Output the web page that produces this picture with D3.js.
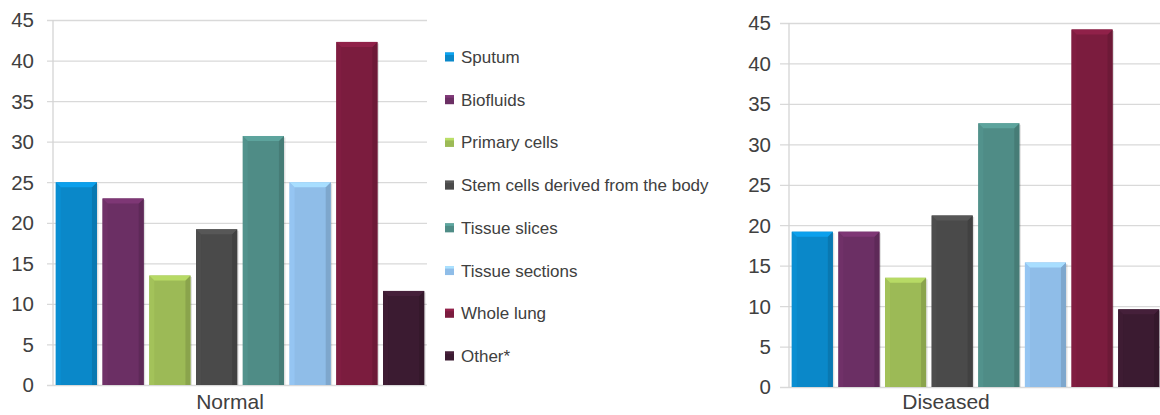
<!DOCTYPE html>
<html>
<head>
<meta charset="utf-8">
<script src="https://cdn.jsdelivr.net/npm/d3@7"></script>
<style>
  html, body { margin: 0; padding: 0; background: #fff; }
  svg { display: block; font-family: "Liberation Sans", Arial, sans-serif; }
</style>
</head>
<body>
<svg id="chart" width="1160" height="415"></svg>
<script>
// ---- data ----
const categories = ["Sputum", "Biofluids", "Primary cells", "Stem cells derived from the body",
  "Tissue slices", "Tissue sections", "Whole lung", "Other*"];
const normalValues = [25, 23, 13.5, 19.2, 30.7, 25, 42.3, 11.6];
const diseasedValues = [19.2, 19.2, 13.5, 21.2, 32.6, 15.4, 44.2, 9.6];
const groupLabels = ["Normal", "Diseased"];
const yTicks = [0, 5, 10, 15, 20, 25, 30, 35, 40, 45];
const colors = ["#0a88c9", "#6b2f64", "#9cba56", "#4a4a4a", "#4f8c86", "#8fbde8", "#7b1c3e", "#3b1b31"];

const svg = d3.select("#chart");
const color = d3.scaleOrdinal().domain(categories).range(colors);

function drawPanel(values, label, cfg) {
  const g = svg.append("g");
  const x = d3.scaleBand().domain(categories).range([cfg.x0, cfg.x1])
    .paddingInner(0.12).paddingOuter(0.06);
  const y = d3.scaleLinear().domain([0, 45]).range([cfg.yb, cfg.yt]);

  // gridlines + ticks
  const yAxis = d3.axisLeft(y).tickValues(yTicks).tickSize(-(cfg.x1 - cfg.x0)).tickSizeOuter(0).tickPadding(0);
  const ax = g.append("g").attr("transform", `translate(${cfg.x0},0)`).call(yAxis);
  ax.select(".domain").remove();
  ax.selectAll(".tick line").attr("stroke", "#d9d9d9").attr("stroke-width", 1.3)
    .attr("x1", -cfg.tick);
  ax.selectAll(".tick text").attr("x", -cfg.labelGap).attr("fill", "#404040")
    .attr("font-size", 20.5).attr("dy", "0.34em")
    .style("font-family", "'Liberation Sans', Arial, sans-serif");
  // y axis line
  g.append("line").attr("x1", cfg.x0).attr("x2", cfg.x0)
    .attr("y1", y(45)).attr("y2", y(0)).attr("stroke", "#d4d4d4").attr("stroke-width", 1.3);

  // bars with bevel
  const b = 5;
  const bars = g.selectAll("g.bar").data(categories.map((c, i) => ({ c, v: values[i] })))
    .join("g").attr("class", "bar");
  bars.each(function (d) {
    const sel = d3.select(this);
    const x0 = x(d.c), w = x.bandwidth(), y0 = y(d.v), h = y(0) - y(d.v);
    const base = d3.color(color(d.c));
    sel.append("rect").attr("x", x0 + 1.5).attr("y", y0 + 1.5).attr("width", w).attr("height", h - 1.5)
      .attr("fill", "#000").attr("opacity", 0.12);
    sel.append("rect").attr("x", x0).attr("y", y0).attr("width", w).attr("height", h).attr("fill", base);
    // left strip
    sel.append("polygon").attr("points", [[x0, y0], [x0 + b, y0 + b], [x0 + b, y0 + h], [x0, y0 + h]].join(" "))
      .attr("fill", base.brighter(0.12));
    // right strip
    sel.append("polygon").attr("points", [[x0 + w, y0], [x0 + w - b, y0 + b], [x0 + w - b, y0 + h], [x0 + w, y0 + h]].join(" "))
      .attr("fill", base.darker(0.35));
    // top bevel
    sel.append("polygon").attr("points", [[x0, y0], [x0 + w, y0], [x0 + w - b, y0 + b], [x0 + b, y0 + b]].join(" "))
      .attr("fill", base.brighter(0.45));
  });

  // group label
  g.append("text").attr("x", cfg.labelX).attr("y", cfg.labelY).attr("text-anchor", "middle")
    .attr("fill", "#404040").attr("font-size", 21).text(label);
}

drawPanel(normalValues, groupLabels[0], { x0: 53, x1: 427, yb: 385, yt: 20, tick: 6, labelGap: 19, labelX: 230, labelY: 409 });
drawPanel(diseasedValues, groupLabels[1], { x0: 789, x1: 1162, yb: 387, yt: 23, tick: 9, labelGap: 18, labelX: 946, labelY: 409 });

// legend
const leg = svg.append("g");
const legY = d3.scalePoint().domain(categories).range([57, 356]);
const items = leg.selectAll("g").data(categories).join("g")
  .attr("transform", d => `translate(445,${legY(d)})`);
items.append("rect").attr("x", 0).attr("y", -4.5).attr("width", 9).attr("height", 9)
  .attr("fill", d => color(d));
items.append("rect").attr("x", 0).attr("y", -4.5).attr("width", 9).attr("height", 2.5)
  .attr("fill", d => d3.color(color(d)).brighter(0.5));
items.append("text").attr("x", 16).attr("dy", "0.35em").attr("font-size", 17)
  .attr("fill", "#404040").text(d => d);
</script>
</body>
</html>
